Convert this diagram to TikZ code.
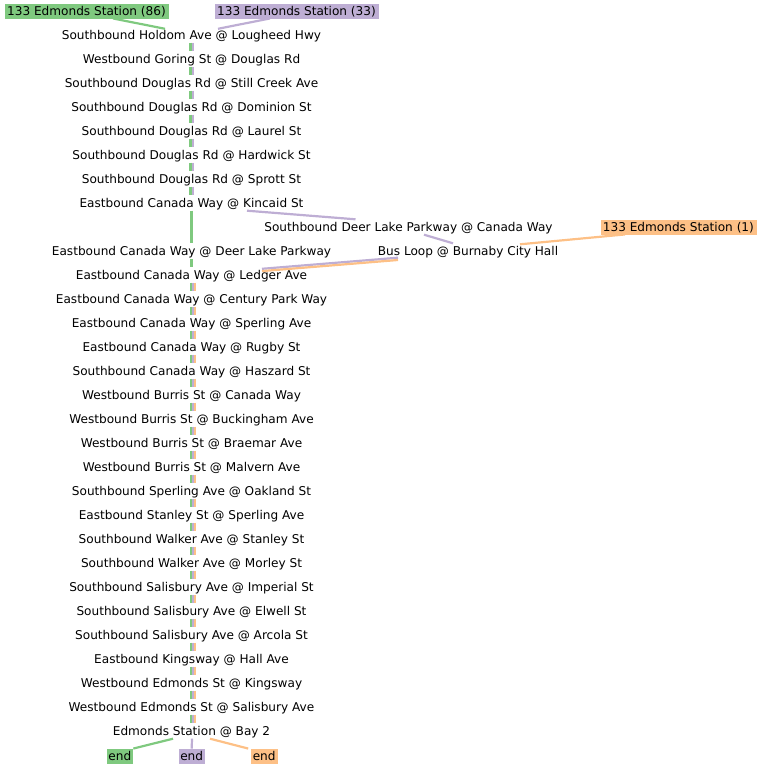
\documentclass[tikz,border=0pt]{standalone}
\usepackage{fontspec}
\setmainfont{DejaVu Sans}
\usepackage{tikz}
\definecolor{rtgreen}{HTML}{7FC97F}
\definecolor{rtpurple}{HTML}{BEAED4}
\definecolor{rtorange}{HTML}{FDC086}
\tikzset{
	stop/.style={inner sep=0pt, minimum height=15pt, text height=10.5pt, text depth=1.5pt, font=\fontsize{12.1}{14}\selectfont},
	route/.style={stop, fill=#1, draw=#1, inner xsep=2.2pt, minimum height=14.5pt},
	gl/.style={draw=rtgreen, line width=2.2pt},
	pl/.style={draw=rtpurple, line width=2.2pt},
	ol/.style={draw=rtorange, line width=2.2pt},
}

\begin{document}
\begin{tikzpicture}[x=1pt, y=-1pt]
			%%%%% START %%%%%
			\useasboundingbox (0, 0) rectangle (761, 768);
			
			\node[route=rtgreen] (rte86) at (86.5, 11) {133 Edmonds Station (86)};
			\node[route=rtpurple] (rte33) at (296.5, 11) {133 Edmonds Station (33)};
			\node[route=rtorange] (rte1) at (678.4, 227) {133 Edmonds Station (1)};
			
			\node[stop] (holdom) at (191.5, 35) {Southbound Holdom Ave @ Lougheed Hwy};
			\node[stop] (goring) at (191.5, 59) {Westbound Goring St @ Douglas Rd};
			\node[stop] (stillcreek) at (191.5, 83) {Southbound Douglas Rd @ Still Creek Ave};
			\node[stop] (dominion) at (191.5, 107) {Southbound Douglas Rd @ Dominion St};
			\node[stop] (laurel) at (191.5, 131) {Southbound Douglas Rd @ Laurel St};
			\node[stop] (hardwick) at (191.5, 155) {Southbound Douglas Rd @ Hardwick St};
			\node[stop] (sprott) at (191.5, 179) {Southbound Douglas Rd @ Sprott St};
			\node[stop] (kincaid) at (191.5, 203) {Eastbound Canada Way @ Kincaid St};
			
			\node[stop] (dlpcanada) at (408.5, 227) {Southbound Deer Lake Parkway @ Canada Way};
			\node[stop] (cwdeerlake) at (191.5, 251) {Eastbound Canada Way @ Deer Lake Parkway};
			\node[stop] (busloop) at (468, 251) {Bus Loop @ Burnaby City Hall};
			
			\node[stop] (ledger) at (191.5, 275) {Eastbound Canada Way @ Ledger Ave};
			\node[stop] (century) at (191.5, 299) {Eastbound Canada Way @ Century Park Way};
			\node[stop] (sperling) at (191.5, 323) {Eastbound Canada Way @ Sperling Ave};
			\node[stop] (rugby) at (191.5, 347) {Eastbound Canada Way @ Rugby St};
			\node[stop] (haszard) at (191.5, 371) {Southbound Canada Way @ Haszard St};
			\node[stop] (burriscw) at (191.5, 395) {Westbound Burris St @ Canada Way};
			\node[stop] (buckingham) at (191.5, 419) {Westbound Burris St @ Buckingham Ave};
			\node[stop] (braemar) at (191.5, 443) {Westbound Burris St @ Braemar Ave};
			\node[stop] (malvern) at (191.5, 467) {Westbound Burris St @ Malvern Ave};
			\node[stop] (oakland) at (191.5, 491) {Southbound Sperling Ave @ Oakland St};
			\node[stop] (stanley) at (191.5, 515) {Eastbound Stanley St @ Sperling Ave};
			\node[stop] (walkerst) at (191.5, 539) {Southbound Walker Ave @ Stanley St};
			\node[stop] (morley) at (191.5, 563) {Southbound Walker Ave @ Morley St};
			\node[stop] (imperial) at (191.5, 587) {Southbound Salisbury Ave @ Imperial St};
			\node[stop] (elwell) at (191.5, 611) {Southbound Salisbury Ave @ Elwell St};
			\node[stop] (arcola) at (191.5, 635) {Southbound Salisbury Ave @ Arcola St};
			\node[stop] (hall) at (191.5, 659) {Eastbound Kingsway @ Hall Ave};
			\node[stop] (edkingsway) at (191.5, 683) {Westbound Edmonds St @ Kingsway};
			\node[stop] (edsalisbury) at (191.5, 707) {Westbound Edmonds St @ Salisbury Ave};
			\node[stop] (bay) at (191.5, 731) {Edmonds Station @ Bay 2};
			
			\node[route=rtgreen, inner xsep=1.2pt] (endg) at (119.8, 756) {end};
			\node[route=rtpurple, inner xsep=1.2pt] (endp) at (191.7, 756) {end};
			\node[route=rtorange, inner xsep=1.2pt] (endo) at (264.2, 756) {end};
			
			% route starts
			\draw[gl] ([xshift=26.5pt]rte86.south) -- ([xshift=-26.5pt, yshift=-1.5pt]holdom.north);
			\draw[pl] ([xshift=-26.5pt]rte33.south) -- ([xshift=26.5pt, yshift=-1.5pt]holdom.north);
			\draw[ol] ([xshift=-53.4pt]rte1.south) -- ([xshift=52pt, yshift=-1pt]busloop.north);
			
			% Douglas Rd, two routes
			\draw[gl] ([xshift=-1pt]holdom.south) -- ([xshift=-1pt]goring.north)
				([xshift=-1pt]goring.south) -- ([xshift=-1pt]stillcreek.north)
				([xshift=-1pt]stillcreek.south) -- ([xshift=-1pt]dominion.north)
				([xshift=-1pt]dominion.south) -- ([xshift=-1pt]laurel.north)
				([xshift=-1pt]laurel.south) -- ([xshift=-1pt]hardwick.north)
				([xshift=-1pt]hardwick.south) -- ([xshift=-1pt]sprott.north)
				([xshift=-1pt]sprott.south) -- ([xshift=-1pt]kincaid.north);
			\draw[pl] ([xshift=1.6pt]holdom.south) -- ([xshift=1.6pt]goring.north)
				([xshift=1.6pt]goring.south) -- ([xshift=1.6pt]stillcreek.north)
				([xshift=1.6pt]stillcreek.south) -- ([xshift=1.6pt]dominion.north)
				([xshift=1.6pt]dominion.south) -- ([xshift=1.6pt]laurel.north)
				([xshift=1.6pt]laurel.south) -- ([xshift=1.6pt]hardwick.north)
				([xshift=1.6pt]hardwick.south) -- ([xshift=1.6pt]sprott.north)
				([xshift=1.6pt]sprott.south) -- ([xshift=1.6pt]kincaid.north);
			
			% split at Deer Lake
			\draw[gl] (kincaid.south) -- (cwdeerlake.north);
			\draw[gl] (cwdeerlake.south) -- (ledger.north);
			\draw[pl] ([xshift=55.5pt]kincaid.south) -- ([xshift=-53pt]dlpcanada.north);
			\draw[pl] ([xshift=15.5pt]dlpcanada.south) -- ([xshift=-15pt]busloop.north);
			\draw[pl] ([xshift=-70pt, yshift=1pt]busloop.south) -- ([xshift=70.5pt, yshift=-1.5pt]ledger.north);
			\draw[ol] ([xshift=-70pt, yshift=-1.3pt]busloop.south) -- ([xshift=70.5pt, yshift=-3.8pt]ledger.north);
			
			% Canada Way to Edmonds, three routes
			\draw[gl] ([xshift=-0.5pt]ledger.south) -- ([xshift=-0.5pt]century.north)
				([xshift=-0.5pt]century.south) -- ([xshift=-0.5pt]sperling.north)
				([xshift=-0.5pt]sperling.south) -- ([xshift=-0.5pt]rugby.north)
				([xshift=-0.5pt]rugby.south) -- ([xshift=-0.5pt]haszard.north)
				([xshift=-0.5pt]haszard.south) -- ([xshift=-0.5pt]burriscw.north)
				([xshift=-0.5pt]burriscw.south) -- ([xshift=-0.5pt]buckingham.north)
				([xshift=-0.5pt]buckingham.south) -- ([xshift=-0.5pt]braemar.north)
				([xshift=-0.5pt]braemar.south) -- ([xshift=-0.5pt]malvern.north)
				([xshift=-0.5pt]malvern.south) -- ([xshift=-0.5pt]oakland.north)
				([xshift=-0.5pt]oakland.south) -- ([xshift=-0.5pt]stanley.north)
				([xshift=-0.5pt]stanley.south) -- ([xshift=-0.5pt]walkerst.north)
				([xshift=-0.5pt]walkerst.south) -- ([xshift=-0.5pt]morley.north)
				([xshift=-0.5pt]morley.south) -- ([xshift=-0.5pt]imperial.north)
				([xshift=-0.5pt]imperial.south) -- ([xshift=-0.5pt]elwell.north)
				([xshift=-0.5pt]elwell.south) -- ([xshift=-0.5pt]arcola.north)
				([xshift=-0.5pt]arcola.south) -- ([xshift=-0.5pt]hall.north)
				([xshift=-0.5pt]hall.south) -- ([xshift=-0.5pt]edkingsway.north)
				([xshift=-0.5pt]edkingsway.south) -- ([xshift=-0.5pt]edsalisbury.north)
				([xshift=-0.5pt]edsalisbury.south) -- ([xshift=-0.5pt]bay.north);
			\draw[pl] ([xshift=1.5pt]ledger.south) -- ([xshift=1.5pt]century.north)
				([xshift=1.5pt]century.south) -- ([xshift=1.5pt]sperling.north)
				([xshift=1.5pt]sperling.south) -- ([xshift=1.5pt]rugby.north)
				([xshift=1.5pt]rugby.south) -- ([xshift=1.5pt]haszard.north)
				([xshift=1.5pt]haszard.south) -- ([xshift=1.5pt]burriscw.north)
				([xshift=1.5pt]burriscw.south) -- ([xshift=1.5pt]buckingham.north)
				([xshift=1.5pt]buckingham.south) -- ([xshift=1.5pt]braemar.north)
				([xshift=1.5pt]braemar.south) -- ([xshift=1.5pt]malvern.north)
				([xshift=1.5pt]malvern.south) -- ([xshift=1.5pt]oakland.north)
				([xshift=1.5pt]oakland.south) -- ([xshift=1.5pt]stanley.north)
				([xshift=1.5pt]stanley.south) -- ([xshift=1.5pt]walkerst.north)
				([xshift=1.5pt]walkerst.south) -- ([xshift=1.5pt]morley.north)
				([xshift=1.5pt]morley.south) -- ([xshift=1.5pt]imperial.north)
				([xshift=1.5pt]imperial.south) -- ([xshift=1.5pt]elwell.north)
				([xshift=1.5pt]elwell.south) -- ([xshift=1.5pt]arcola.north)
				([xshift=1.5pt]arcola.south) -- ([xshift=1.5pt]hall.north)
				([xshift=1.5pt]hall.south) -- ([xshift=1.5pt]edkingsway.north)
				([xshift=1.5pt]edkingsway.south) -- ([xshift=1.5pt]edsalisbury.north)
				([xshift=1.5pt]edsalisbury.south) -- ([xshift=1.5pt]bay.north);
			\draw[ol] ([xshift=3.5pt]ledger.south) -- ([xshift=3.5pt]century.north)
				([xshift=3.5pt]century.south) -- ([xshift=3.5pt]sperling.north)
				([xshift=3.5pt]sperling.south) -- ([xshift=3.5pt]rugby.north)
				([xshift=3.5pt]rugby.south) -- ([xshift=3.5pt]haszard.north)
				([xshift=3.5pt]haszard.south) -- ([xshift=3.5pt]burriscw.north)
				([xshift=3.5pt]burriscw.south) -- ([xshift=3.5pt]buckingham.north)
				([xshift=3.5pt]buckingham.south) -- ([xshift=3.5pt]braemar.north)
				([xshift=3.5pt]braemar.south) -- ([xshift=3.5pt]malvern.north)
				([xshift=3.5pt]malvern.south) -- ([xshift=3.5pt]oakland.north)
				([xshift=3.5pt]oakland.south) -- ([xshift=3.5pt]stanley.north)
				([xshift=3.5pt]stanley.south) -- ([xshift=3.5pt]walkerst.north)
				([xshift=3.5pt]walkerst.south) -- ([xshift=3.5pt]morley.north)
				([xshift=3.5pt]morley.south) -- ([xshift=3.5pt]imperial.north)
				([xshift=3.5pt]imperial.south) -- ([xshift=3.5pt]elwell.north)
				([xshift=3.5pt]elwell.south) -- ([xshift=3.5pt]arcola.north)
				([xshift=3.5pt]arcola.south) -- ([xshift=3.5pt]hall.north)
				([xshift=3.5pt]hall.south) -- ([xshift=3.5pt]edkingsway.north)
				([xshift=3.5pt]edkingsway.south) -- ([xshift=3.5pt]edsalisbury.north)
				([xshift=3.5pt]edsalisbury.south) -- ([xshift=3.5pt]bay.north);
			
			% ends
			\draw[gl] ([xshift=-18.5pt]bay.south) -- ([xshift=13.5pt]endg.north);
			\draw[pl] ([xshift=0.5pt]bay.south) -- (endp.north);
			\draw[ol] ([xshift=18.5pt]bay.south) -- ([xshift=-16pt]endo.north);
			
			%%%%% END %%%%%
		\end{tikzpicture}
\end{document}
